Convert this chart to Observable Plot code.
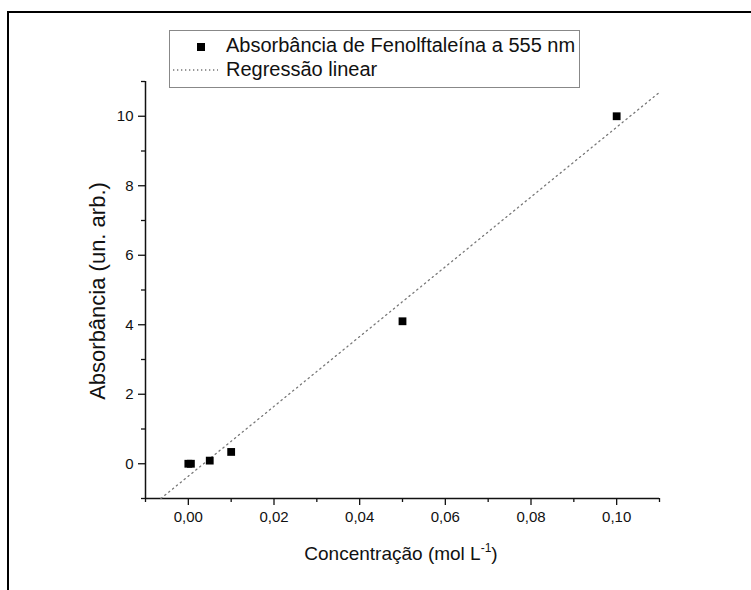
<!DOCTYPE html>
<html>
<head>
<meta charset="utf-8">
<script src="https://cdn.jsdelivr.net/npm/d3@7"></script>
<script src="https://cdn.jsdelivr.net/npm/@observablehq/plot@0.6"></script>
<style>
  html, body { margin: 0; padding: 0; background: #fff; }
  #wrap { position: relative; width: 751px; height: 590px; overflow: hidden; font-family: "Liberation Sans", Arial, sans-serif; }
  #frame { position: absolute; left: 7px; top: 11px; width: 800px; height: 700px; border-left: 2px solid #000; border-top: 2px solid #000; }
  #plot { position: absolute; left: 0; top: 0; }
  .lbl { position: absolute; color: #111; white-space: nowrap; }
  #legend { position: absolute; left: 169px; top: 30px; width: 411px; height: 58px; border: 1px solid #888; box-sizing: border-box; }
  .row { position: absolute; left: 0; font-size: 20px; color: #111; white-space: nowrap; }
</style>
</head>
<body>
<div id="wrap">
  <div id="frame"></div>
  <div id="plot"></div>
  <div id="legend">
    <div class="row" style="top:3px;">
      <svg width="56" height="24" style="position:absolute;left:0;top:0"><rect x="27" y="9" width="8" height="8" fill="#000"/></svg>
      <span style="position:absolute;left:56px;top:0">Absorbância de Fenolftaleína a 555 nm</span>
    </div>
    <div class="row" style="top:27px;">
      <svg width="56" height="24" style="position:absolute;left:0;top:0"><line x1="3" y1="12" x2="48" y2="12" stroke="#777" stroke-width="1.3" stroke-dasharray="1.3,2.7"/></svg>
      <span style="position:absolute;left:56px;top:0">Regressão linear</span>
    </div>
  </div>
  <div class="lbl" id="ylab" style="left:98px;top:291px;font-size:22px;transform:translate(-50%,-50%) rotate(-90deg);">Absorbância (un. arb.)</div>
  <div class="lbl" id="xlab" style="left:401px;top:553px;font-size:19px;transform:translate(-50%,-50%);">Concentração (mol L<sup style="font-size:12px;">-1</sup>)</div>
</div>
<script>
const concentration = [0, 0.0006, 0.005, 0.01, 0.05, 0.10];
const absorbance = [0, 0, 0.09, 0.34, 4.1, 10.0];
// Regression line endpoints
const fitX = [-0.0064, 0.11];
const fitY = [-1.0, 10.69];
// Ticks
const xMajor = [0, 0.02, 0.04, 0.06, 0.08, 0.10];
const xMinor = [-0.01, 0.01, 0.03, 0.05, 0.07, 0.09, 0.11];
const yMajor = [0, 2, 4, 6, 8, 10];
const yMinor = [-1, 1, 3, 5, 7, 9, 11];

const points = concentration.map((c, i) => ({c, a: absorbance[i]}));
const fit = fitX.map((c, i) => ({c, a: fitY[i]}));
const comma = d => d.toFixed(2).replace(".", ",");

const chart = Plot.plot({
  width: 751,
  height: 590,
  marginLeft: 145,
  marginRight: 92,
  marginTop: 81,
  marginBottom: 92,
  style: {fontFamily: "Liberation Sans, Arial, sans-serif", fontSize: "15px", color: "#111", background: "transparent"},
  x: {domain: [-0.01, 0.11]},
  y: {domain: [-1, 11]},
  marks: [
    Plot.axisX({ticks: xMajor, tickSize: 7, tickPadding: 6, tickFormat: comma, label: null, strokeWidth: 1.3}),
    Plot.axisX({ticks: xMinor, tickSize: 4, tickFormat: () => "", label: null, strokeWidth: 1.3}),
    Plot.axisY({ticks: yMajor, tickSize: 7, tickPadding: 5, tickFormat: d => String(d), label: null, strokeWidth: 1.3}),
    Plot.axisY({ticks: yMinor, tickSize: 4, tickFormat: () => "", label: null, strokeWidth: 1.3}),
    Plot.ruleY([-1], {stroke: "#111", strokeWidth: 1.5}),
    Plot.ruleX([-0.01], {stroke: "#111", strokeWidth: 1.5}),
    Plot.line(fit, {x: "c", y: "a", stroke: "#777", strokeWidth: 1.3, strokeDasharray: "1.3,3.7"}),
    Plot.dot(points, {x: "c", y: "a", symbol: "square", r: 4.4, fill: "#000", stroke: null})
  ]
});
document.getElementById("plot").appendChild(chart);
</script>
</body>
</html>
